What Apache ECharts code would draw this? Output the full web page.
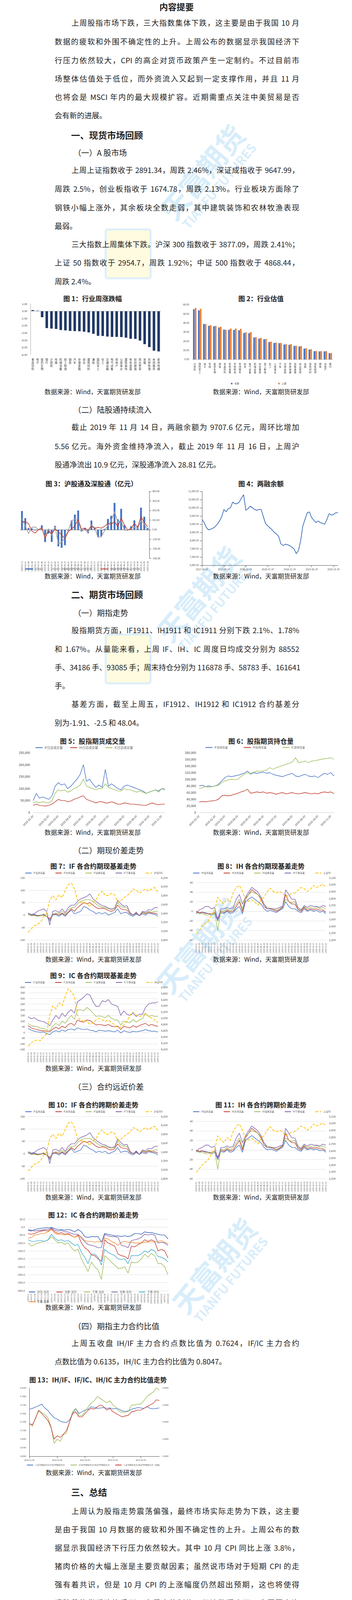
<!DOCTYPE html>
<html><head><meta charset="utf-8">
<script src="https://cdn.jsdelivr.net/npm/echarts@6/dist/echarts.min.js"></script>
<style>
body{margin:0;width:901px;height:5499px;position:relative;background:#fff;font-family:"Noto Sans CJK SC",sans-serif;color:#222;overflow:hidden}
.ln{position:absolute;left:140px;width:626px;font-size:19px;line-height:24px;height:24px;white-space:nowrap;text-align:justify;text-align-last:justify;transform:translateY(-12px)}
.ln.last{text-align-last:left}
.ind{padding-left:43px;width:583px}
.h1{position:absolute;left:182px;font-size:23px;font-weight:bold;transform:translateY(-14px)}
.h2{position:absolute;left:188px;font-size:20px;transform:translateY(-12px)}
.ft{position:absolute;font-size:17px;font-weight:bold;transform:translate(-50%,-11px);white-space:nowrap}
.src{position:absolute;font-size:16px;transform:translate(-50%,-10px);white-space:nowrap}
.ds{position:absolute;left:140px;width:626px;font-size:17px;line-height:22px;white-space:nowrap;text-align:justify;text-align-last:justify;transform:translateY(-11px);color:#333}
.ds.last{text-align-last:left}
.ch{position:absolute}
.wm{position:absolute;color:#9fd4f3;opacity:.4;font-weight:bold;transform:translate(-50%,-50%) rotate(-50deg);white-space:nowrap;pointer-events:none;text-align:center;line-height:1.1}
.wm2{position:absolute;background:#fdf6a8;opacity:.35;border:5px solid #9fd4f3;border-radius:8px;width:110px;height:120px}
</style></head><body>
<div id="root"></div>
<script>
// ---------------- DATA ----------------
const fig1Cats=['食品饮料','电子','医药生物','银行','计算机','传媒','机械设备','轻工制造','钢铁','汽车','非银金融','综合','建筑材料','通信','国防军工','化工','交通运输','电气设备','房地产','公用事业','建筑装饰','有色金属','纺织服装','商业贸易','采掘','农林牧渔','休闲服务','家用电器'];
const fig1Vals=[0.15,0.07,-0.83,-2.33,-2.4,-2.45,-2.6,-2.65,-2.72,-2.75,-2.77,-2.83,-2.93,-3.12,-3.4,-3.42,-3.5,-3.55,-3.55,-3.57,-3.65,-3.8,-3.82,-4.05,-4.55,-4.95,-5.45,-5.55];
const fig2Cats=['计算机','国防军工','电子','传媒','医药生物','通信','食品饮料','有色金属','农林牧渔','休闲服务','综合','电气设备','机械设备','纺织服装','轻工制造','化工','公用事业','汽车','交通运输','家用电器','非银金融','商业贸易','采掘','建筑材料','建筑装饰','钢铁','房地产','银行'];
const fig2Now=[55,53.8,38.8,36.8,36.3,35,32.7,32.5,32.3,31.9,29,28.8,24,22.8,22.1,19,18,17.8,16.3,16,14.8,14.2,11.8,10.8,9,8.8,8.8,6.8];
const fig2Prev=[56.5,55.5,38.8,37.5,36.8,35.8,32.5,33.8,33.8,33.5,29.8,30,24.3,23.6,22.5,19.5,18.5,18,16.8,16.7,15,14.7,12.3,11.2,9.2,9,9.1,7];
const fig3Dates=['2019-02-23','2019-03-02','2019-03-09','2019-03-16','2019-03-23','2019-03-30','2019-04-06','2019-04-13','2019-04-20','2019-04-27','2019-05-04','2019-05-11','2019-05-18','2019-05-25','2019-06-01','2019-06-08','2019-06-15','2019-06-22','2019-06-29','2019-07-06','2019-07-13','2019-07-20','2019-07-27','2019-08-03','2019-08-10','2019-08-17','2019-08-24','2019-08-31','2019-09-07','2019-09-14','2019-09-21','2019-09-28','2019-10-05','2019-10-12','2019-10-19','2019-10-26','2019-11-02','2019-11-09','2019-11-16'];
const fig3Total=[195,120,17,12,-8,0,45,-130,-40,-128,40,-175,-190,-163,-10,97,157,200,-20,20,-38,95,25,-75,-70,8,112,145,280,108,218,45,-3,35,97,38,230,135,17];
const fig3SH=[115,40,-40,25,28,0,15,-75,10,-60,35,-150,-130,-90,-10,90,110,95,-15,0,-30,50,20,-80,-75,-10,45,90,190,75,95,-5,-5,10,25,10,95,60,-10];
const fig3SZ=[80,85,62,-15,-35,0,20,-90,-15,-45,5,-20,-55,-95,-20,5,40,105,5,15,-5,40,10,25,15,35,65,55,85,30,120,50,-5,15,65,25,135,75,30];
const fig4Vals=[9300,9100,8800,8650,8700,8750,8850,9000,9200,9450,9900,9750,9950,10000,10350,10250,10250,10350,10600,10800,9850,9950,10100,10000,9900,9850,9900,9900,9450,9050,8900,8780,8650,8500,8400,8250,7800,7700,7780,7750,7700,7600,7500,7200,7400,8000,8900,9300,9700,9750,9400,9250,9100,9200,9100,9050,9000,9300,9650,9550,9600,9700,9700];
const dailyDates=['2019-01-02','2019-01-09','2019-01-16','2019-01-23','2019-01-30','2019-02-13','2019-02-20','2019-02-27','2019-03-06','2019-03-13','2019-03-20','2019-03-27','2019-04-03','2019-04-10','2019-04-17','2019-04-24','2019-05-07','2019-05-14','2019-05-21','2019-05-28','2019-06-04','2019-06-12','2019-06-19','2019-06-26','2019-07-03','2019-07-10','2019-07-17','2019-07-24','2019-07-31','2019-08-07','2019-08-14','2019-08-21','2019-08-28','2019-09-04','2019-09-11','2019-09-19','2019-09-26','2019-10-10','2019-10-17','2019-10-24','2019-10-31','2019-11-07','2019-11-14'];
const volIF=[50000,80000,60000,65000,60000,55000,70000,110000,125000,115000,120000,100000,110000,125000,140000,160000,200000,130000,140000,120000,105000,115000,105000,180000,110000,120000,110000,100000,95000,110000,115000,110000,105000,100000,95000,90000,80000,85000,90000,95000,90000,100000,95000];
const volIH=[30000,35000,30000,28000,27000,30000,35000,45000,55000,50000,50000,45000,48000,55000,60000,65000,70000,55000,50000,45000,40000,45000,45000,40000,40000,45000,40000,35000,35000,40000,38000,35000,35000,33000,32000,30000,30000,35000,40000,35000,33000,35000,35000];
const volIC=[40000,45000,40000,45000,42000,40000,50000,80000,95000,90000,95000,85000,90000,100000,105000,115000,140000,110000,105000,100000,95000,100000,100000,120000,105000,100000,95000,90000,90000,100000,95000,95000,90000,85000,90000,85000,80000,85000,90000,95000,85000,100000,100000];
const oiIF=[80000,82000,78000,80000,78000,80000,85000,95000,105000,110000,108000,110000,112000,115000,118000,125000,115000,120000,118000,120000,122000,118000,120000,115000,112000,110000,108000,112000,115000,118000,110000,108000,112000,115000,110000,108000,110000,105000,112000,118000,115000,120000,110000];
const oiIH=[32000,33000,32000,34000,35000,36000,40000,50000,52000,50000,52000,55000,58000,62000,65000,70000,58000,60000,62000,60000,62000,58000,60000,58000,55000,58000,60000,56000,58000,60000,57000,56000,58000,60000,58000,56000,58000,56000,60000,62000,60000,62000,57000];
const oiIC=[72000,75000,78000,76000,78000,80000,82000,90000,95000,98000,100000,99000,100000,108000,115000,120000,118000,122000,125000,124000,126000,128000,135000,130000,135000,138000,142000,145000,148000,152000,165000,150000,152000,155000,150000,155000,156000,158000,160000,162000,163000,165000,160000];
const ifM1=[5,0,3,-2,0,2,-5,-20,0,2,-5,5,-5,10,20,5,10,15,35,30,20,15,5,10,5,10,0,5,10,25,5,10,10,0,-5,5,-2,5,0,8,5,3,-5];
const ifM2=[3,-2,0,-3,-2,0,-5,-15,2,5,0,8,0,12,25,15,30,40,50,45,50,40,30,25,28,25,18,15,20,40,25,22,20,5,0,8,-3,10,5,12,8,8,3];
const ifQ1=[5,-3,-2,-5,-3,5,-5,-25,5,8,5,15,5,20,30,30,45,55,60,62,62,55,45,35,32,30,25,22,25,50,35,30,30,8,0,10,-2,12,8,15,12,15,15];
const ifQ2=[8,3,5,15,20,25,15,-40,15,18,10,25,10,30,40,40,55,65,70,75,85,65,55,45,38,35,28,25,28,60,45,35,38,10,0,12,-3,15,12,22,20,30,30];
const hs300=[2970,3050,3120,3150,3200,3320,3400,3700,3800,3700,3820,3750,3900,4050,4080,3950,3700,3650,3650,3620,3550,3650,3700,3830,3900,3800,3800,3850,3820,3650,3680,3750,3800,3850,3950,3920,3850,3900,3950,3900,3950,3980,3880];
const ihM1=[0,-5,-2,-3,-5,-8,-5,-20,-3,-5,0,-5,-3,5,10,-5,20,25,30,25,20,15,5,0,2,0,-3,2,5,20,10,5,5,0,-3,5,0,3,0,2,-2,0,-5];
const ihM2=[0,-3,-2,-5,-5,-5,-2,-15,0,-3,2,-2,0,10,20,0,25,35,45,40,35,25,10,5,5,3,0,3,8,35,20,15,15,3,0,8,2,5,3,5,2,3,-2];
const ihQ1=[-2,-5,-5,-8,-8,-5,-3,-40,2,0,5,0,5,15,25,5,28,35,40,38,35,28,15,8,6,5,2,5,10,25,20,18,20,5,2,10,5,8,5,10,5,8,5];
const ihQ2=[-5,3,5,10,10,5,8,-20,5,5,8,5,8,25,35,15,30,40,50,45,40,30,15,5,6,5,5,8,10,45,35,25,25,8,3,12,8,12,10,10,8,12,10];
const sz50=[2290,2340,2400,2440,2480,2560,2620,2820,2760,2720,2800,2750,2880,2960,2990,2900,2780,2760,2780,2750,2700,2780,2820,2900,2950,2900,2880,2900,2880,2820,2850,2870,2880,2920,2960,2940,2900,2930,2990,2960,2980,3010,2960];
const icM1=[35,20,10,5,0,5,-10,-20,5,15,5,20,10,25,30,20,40,30,25,30,20,15,5,20,15,10,15,10,5,20,-5,15,5,0,10,5,10,15,25,15,10,10,5];
const icM2=[60,40,30,25,15,15,10,5,30,45,30,55,40,70,80,60,110,95,90,110,105,85,65,70,65,60,70,55,50,55,25,55,45,40,60,45,60,70,80,60,70,60,55];
const icQ1=[80,60,55,50,35,35,25,15,55,80,60,100,80,120,150,115,200,200,190,220,200,170,140,145,140,130,150,125,110,110,65,100,90,85,115,90,110,120,170,140,150,140,140];
const icQ2=[140,120,130,110,100,95,80,60,110,150,120,170,140,180,200,170,270,290,310,340,330,270,230,230,280,270,290,250,240,230,150,190,160,150,170,140,160,160,220,250,260,260,270];
const zz500=[4100,4200,4280,4300,4280,4400,4500,5100,5400,5300,5500,5400,5700,5950,5850,5700,5100,4900,4950,4900,4800,4850,4950,5000,4950,4900,4950,4850,4800,4700,4700,4800,4900,5100,5200,5100,5050,5100,5150,5050,5000,4950,4850];
const spM2M1=[-20,-25,-15,-10,-8,-5,-5,-2,-10,-15,-15,-20,-15,-20,-30,-15,-30,-60,-65,-60,-60,-60,-95,-40,-45,-50,-55,-55,-60,-55,-60,-55,-40,-40,-45,-30,-35,-35,-40,-45,-50,-50,-75];
const spQ1M1=[-40,-45,-40,-30,-25,-20,-25,-10,-30,-40,-35,-45,-40,-55,-65,-50,-100,-130,-145,-175,-180,-200,-215,-80,-100,-110,-120,-170,-180,-185,-200,-120,-125,-110,-100,-80,-90,-80,-90,-150,-140,-150,-195];
const spQ2M1=[-100,-120,-110,-100,-95,-90,-80,-60,-80,-100,-95,-110,-100,-130,-150,-140,-200,-240,-280,-220,-250,-270,-330,-180,-200,-220,-240,-260,-260,-250,-290,-220,-225,-220,-200,-170,-190,-165,-180,-230,-230,-250,-300];
const spQ1M2=[-15,-20,-25,-20,-20,-15,-15,-5,-20,-25,-20,-30,-30,-40,-45,-45,-70,-90,-110,-115,-120,-130,-130,-45,-55,-60,-60,-65,-115,-120,-130,-85,-80,-75,-65,-45,-50,-45,-50,-100,-95,-100,-115];
const spQ2M2=[-80,-90,-90,-85,-85,-90,-80,-45,-70,-85,-80,-90,-85,-100,-115,-110,-160,-190,-230,-170,-170,-190,-240,-140,-160,-170,-180,-200,-205,-200,-230,-180,-180,-180,-170,-150,-160,-140,-150,-185,-190,-200,-220];
const spQ2Q1=[-70,-65,-50,-45,-40,-40,-30,-15,-40,-45,-45,-50,-45,-55,-65,-55,-60,-85,-90,-90,-95,-90,-95,-70,-75,-90,-100,-115,-95,-90,-95,-95,-100,-100,-100,-95,-95,-90,-95,-90,-85,-95,-105];
const rIHIF=[0.760,0.762,0.765,0.768,0.772,0.763,0.757,0.748,0.740,0.737,0.732,0.730,0.729,0.735,0.750,0.762,0.750,0.754,0.758,0.760,0.766,0.764,0.762,0.763,0.764,0.762,0.763,0.761,0.762,0.760,0.756,0.755,0.756,0.760,0.762,0.764,0.763,0.762,0.766,0.762,0.761,0.762,0.763];
const rGreen=[0.728,0.720,0.740,0.755,0.752,0.748,0.740,0.720,0.680,0.690,0.685,0.700,0.705,0.730,0.755,0.762,0.745,0.745,0.755,0.765,0.775,0.780,0.790,0.785,0.780,0.775,0.780,0.770,0.765,0.755,0.752,0.753,0.755,0.770,0.770,0.772,0.772,0.780,0.790,0.795,0.800,0.810,0.805];
const rRed=[0.545,0.542,0.560,0.585,0.575,0.565,0.555,0.535,0.500,0.510,0.505,0.515,0.525,0.550,0.575,0.580,0.565,0.565,0.575,0.585,0.590,0.588,0.595,0.600,0.595,0.585,0.590,0.580,0.575,0.570,0.565,0.568,0.570,0.580,0.582,0.585,0.585,0.590,0.595,0.600,0.605,0.615,0.613];

// ---------------- TEXT ----------------
const root=document.getElementById('root');
function add(cls,y,txt,x){const d=document.createElement('div');d.className=cls;d.style.top=y+'px';if(x!==undefined)d.style.left=x+'px';d.textContent=txt;root.appendChild(d);return d;}
function para(ys,lines,cls){lines.forEach((t,i)=>{let c=cls||'ln';if(i===0)c+=' ind';if(i===lines.length-1)c+=' last';add(c,ys[i],t);});}
function wmText(cx,cy){const a=document.createElement('div');a.className='wm';a.style.left=cx+'px';a.style.top=cy+'px';a.innerHTML='<div style="font-size:72px">天富期货</div><div style="font-size:32px">TIANFU FUTURES</div>';root.appendChild(a);}
function wmBox(x,y){const c=document.createElement('div');c.className='wm2';c.style.left=x+'px';c.style.top=y+'px';root.appendChild(c);}
[[530,450],[520,1530],[520,2430],[560,3250],[560,4300],[560,5330]].forEach(p=>wmText(p[0],p[1]));
[[268,585],[268,1622],[268,4438],[268,5475]].forEach(p=>wmBox(p[0],p[1]));

const t=add('ft',11,'内容提要',452);t.style.fontSize='22px';
para([58,106,154,201,248,295],['上周股指市场下跌，三大指数集体下跌，这主要是由于我国 10 月','数据的疲软和外围不确定性的上升。上周公布的数据显示我国经济下','行压力依然较大，CPI 的高企对货币政策产生一定制约。不过目前市','场整体估值处于低位，而外资流入又起到一定支撑作用，并且 11 月','也将会是 MSCI 年内的最大规模扩容。近期需重点关注中美贸易是否','会有新的进展。']);
add('h1',342,'一、现货市场回顾');
add('h2',388,'（一）A 股市场');
para([435,483,531,578],['上周上证指数收于 2891.34，周跌 2.46%，深证成指收于 9647.99，','周跌 2.5%，创业板指收于 1674.78，周跌 2.13%。行业板块方面除了','钢铁小幅上涨外，其余板块全数走弱，其中建筑装饰和农林牧渔表现','最弱。']);
para([625,672,720],['三大指数上周集体下跌。沪深 300 指数收于 3877.09，周跌 2.41%；','上证 50 指数收于 2954.7，周跌 1.92%；中证 500 指数收于 4868.44，','周跌 2.4%。']);
add('ft',762,'图 1：行业周涨跌幅',237);add('ft',762,'图 2：行业估值',668);
add('src',1000,'数据来源：Wind，天富期货研发部',237);add('src',1000,'数据来源：Wind，天富期货研发部',668);
add('h2',1046,'（二）陆股通持续流入');
para([1093,1142,1189],['截止 2019 年 11 月 14 日，两融余额为 9707.6 亿元，周环比增加','5.56 亿元。海外资金维持净流入，截止 2019 年 11 月 16 日，上周沪','股通净流出 10.9 亿元，深股通净流入 28.81 亿元。']);
add('ft',1236,'图 3：沪股通及深股通（亿元）',234);add('ft',1236,'图 4：两融余额',668);
add('src',1472,'数据来源：Wind，天富期货研发部',237);add('src',1472,'数据来源：Wind，天富期货研发部',668);
add('h1',1518,'二、期货市场回顾');
add('h2',1566,'（一）期指走势');
para([1613,1661,1708,1755],['股指期货方面，IF1911、IH1911 和 IC1911 分别下跌 2.1%、1.78%','和 1.67%。从量能来看，上周 IF、IH、IC 周度日均成交分别为 88552','手、34186 手、93085 手；周末持仓分别为 116878 手、58783 手、161641','手。']);
para([1802,1850],['基差方面，截至上周五，IF1912、IH1912 和 IC1912 合约基差分','别为-1.91、-2.5 和 48.04。']);
add('ft',1895,'图 5：股指期货成交量',237);add('ft',1895,'图 6：股指期货持仓量',668);
add('src',2128,'数据来源：Wind，天富期货研发部',237);add('src',2128,'数据来源：Wind，天富期货研发部',668);
add('h2',2174,'（二）期现价差走势');
add('ft',2215,'图 7：IF 各合约期现基差走势',239);add('ft',2215,'图 8：IH 各合约期现基差走势',668);
add('src',2453,'数据来源：Wind，天富期货研发部',239);add('src',2453,'数据来源：Wind，天富期货研发部',668);
add('ft',2495,'图 9：IC 各合约期现基差走势',239);
add('src',2732,'数据来源：Wind，天富期货研发部',239);
add('h2',2779,'（三）合约远近价差');
add('ft',2826,'图 10：IF 各合约跨期价差走势',239);add('ft',2826,'图 11：IH 各合约跨期价差走势',668);
add('src',3062,'数据来源：Wind，天富期货研发部',239);add('src',3062,'数据来源：Wind，天富期货研发部',668);
add('ft',3108,'图 12：IC 各合约跨期价差走势',239);
add('src',3344,'数据来源：Wind，天富期货研发部',239);
add('h2',3392,'（四）期指主力合约比值');
para([3438,3485],['上周五收盘 IH/IF 主力合约点数比值为 0.7624，IF/IC 主力合约','点数比值为 0.6135，IH/IC 主力合约比值为 0.8047。']);
const f13=add('ft',3530,'图 13：IH/IF、IF/IC、IH/IC 主力合约比值走势',75);f13.style.transform='translateY(-11px)';
add('src',3767,'数据来源：Wind，天富期货研发部',240);
add('h1',3816,'三、总结');
para([3868,3915,3962,4009,4056,4103,4150,4196,4244,4291,4339,4387,4434,4482,4528,4575],['上周认为股指走势震荡偏强，最终市场实际走势为下跌，这主要','是由于我国 10 月数据的疲软和外围不确定性的上升。上周公布的数','据显示我国经济下行压力依然较大。其中 10 月 CPI 同比上涨 3.8%，','猪肉价格的大幅上涨是主要贡献因素；虽然说市场对于短期 CPI 的走','强有着共识，但是 10 月 CPI 的上涨幅度仍然超出预期，这也将使得','现阶段的货币政策受到一定程度的制约。经济数据方面，全国固定资','产投资 10 月累计同比增长 5.2%，增速比 1-9 月份回落 0.2%；其中房','地产基建稳中有降，制造业低位小幅回升，社会消费品零售总额 10','月当月同比增长 7.2%，增速较上月回落 0.6%，虽然其中部分原因是','受双十一等短期因素影响，但整体来看消费情况仍然未有起色。金融','数据方面，我国 10 月 M2 同比增速与上月持平，M1 同比增长 3.3%，','较上月回落 0.1%；10 月新增社融 6189 亿，大幅下滑。除了经济数据','的疲软对市场走势产生压制外，上周港股的下跌也对 A 股造成了拖','累，恒生指数周跌近 5%，创 8 月 2 日以来最大周跌幅。不过港股的','下跌主要受其自身情况拖累，对 A 股更多的是情绪面的短期影响，预','计后期影响将趋弱。']);
para([4623,4669,4717,4764,4810,4858,4908,4955],['整体来看，我国经济下行压力依然较大，而 CPI 的高企又对货币','政策产生一定制约；不过目前市场整体估值依然处于低位，而外资的','持续流入又起到一定支撑作用，并且 11 月也将会是 MSCI 年内的最大','规模扩容。所以认为短期市场虽然缺少大幅上涨的条件，但也很难出','现连续下跌的情况，走势将以震荡为主。近期还需重点关注中美贸易','是否会有新的进展，如果第一阶段协议能够顺利落地，这将对市场产','生积极影响。目前市场波动加大，在外围不确定性仍然存在的情况下，','建议投资者暂时观望，等待市场走势企稳。']);
const mz=add('h1',5051,'免责声明');mz.style.fontSize='20px';
const dis=[['本报告的信息均来源于公开资料，我公司对这些信息的准确性和完整性不作','任何保证，也不保证所包含的信息和建议不会发生任何变更。文中的观点、结论','和建议仅供参考。天富期货可发出其它与本报告所载资料不一致及有不同结论的','报告。本报告及该等报告反映编写分析员的不同设想、见解及分析方法。报告所','载资料、意见及推测仅反映分析员于发出此报告日期当日的独立判断。'],['客户不应视本报告为作出投资决策的惟一因素。本报告中所指的投资及服务','可能不适合个别客户，不构成客户私人咨询建议。本公司未确保本报告充分考虑','到个别客户特殊的投资目标、财务状况或需要。本公司建议客户应考虑本报告的','任何意见或建议是否符合其特定状况，以及（若有必要）咨询独立投资顾问。'],['在任何情况下，本报告中的信息或所表述的意见并不构成对任何人的投资建','议。在任何情况下，本公司不对任何人因使用本报告中的任何内容所引致的损失','负任何责任。'],['本报告的观点可能与资管团队的观点不同或对立，对于基于本报告全面或部','分做出的交易、结果，不论盈利或亏损，天富期货研究发展部不承担责任。'],['本报告版权仅为天富期货有限公司所有，未经书面许可，任何机构和个人不','得以任何形式翻版、复制和发布。如引用、刊发，需注明出处天富期货研究发展','部，且不得对本报告进行有悖原意的引用、删节和修改。']];
let k=0;dis.forEach(p=>p.forEach((s,i)=>{let c='ds';if(i===p.length-1)c+=' last';const d=add(c,Math.round(5086+k*23.56),s);if(i===0){d.style.paddingLeft='37px';d.style.width='589px';}k++;}));

// ---------------- CHARTS ----------------
function box(x,y,w,h){const d=document.createElement('div');d.className='ch';d.style.left=x+'px';d.style.top=y+'px';d.style.width=w+'px';d.style.height=h+'px';root.appendChild(d);return echarts.init(d);}
const FF='"Noto Sans CJK SC",sans-serif';
const BLUE='#4472C4',RED='#C0392B',GREEN='#9BBB59',PURPLE='#7E5EAA',YEL='#FFC000';
const vert=v=>v.split('').join('\n');
const fix=n=>v=>v.toFixed(n);
const thou=v=>v.toLocaleString('en-US');
function ln(name,data,color,extra){return Object.assign({name,type:'line',data,symbol:'none',lineStyle:{color,width:1.4},itemStyle:{color}},extra||{});}

// Fig1
box(40,770,380,218).setOption({animation:false,textStyle:{fontFamily:FF},grid:{left:38,right:8,top:8,bottom:80},
 xAxis:{type:'category',data:fig1Cats,axisLine:{show:false},axisTick:{show:false},axisLabel:{interval:0,formatter:vert,fontSize:7,lineHeight:8,color:'#333'}},
 yAxis:{type:'value',min:-6,max:1,interval:1,axisLine:{show:true,lineStyle:{color:'#aaa'}},splitLine:{show:false},axisLabel:{formatter:fix(2),fontSize:7,color:'#333'}},
 series:[{type:'bar',data:fig1Vals,barWidth:'55%',itemStyle:{color:'#1F3864'},markLine:{symbol:'none',silent:true,label:{show:false},lineStyle:{color:'#aaa',type:'solid',width:1},data:[{yAxis:0}]}}]});
// Fig2
box(462,772,400,220).setOption({animation:false,textStyle:{fontFamily:FF},grid:{left:30,right:10,top:8,bottom:72},
 legend:{bottom:2,left:'center',itemGap:100,itemWidth:4,itemHeight:4,textStyle:{fontSize:6},data:['本期','上期']},
 xAxis:{type:'category',data:fig2Cats,axisLine:{lineStyle:{color:'#bbb'}},axisTick:{show:false},axisLabel:{interval:0,formatter:vert,fontSize:6,lineHeight:7,color:'#333'}},
 yAxis:{type:'value',min:0,max:60,interval:10,splitLine:{show:false},axisLine:{show:false},axisLabel:{formatter:fix(2),fontSize:6,color:'#333'}},
 series:[{name:'本期',type:'bar',data:fig2Now,barGap:'10%',barWidth:'32%',itemStyle:{color:BLUE}},{name:'上期',type:'bar',data:fig2Prev,barWidth:'32%',itemStyle:{color:'#ED7D31'}}]});
// Fig3
box(40,1248,400,218).setOption({animation:false,textStyle:{fontFamily:FF},grid:{left:12,right:58,top:10,bottom:30},
 legend:{bottom:2,left:20,itemGap:22,itemWidth:20,itemHeight:3,textStyle:{fontSize:5},data:['合计流入','沪股通:当日资金净流入(人民币):周','深股通:当日资金净流入(人民币):周']},
 xAxis:{type:'category',data:fig3Dates,axisLine:{onZero:true,lineStyle:{color:'#555'}},axisTick:{show:false},axisLabel:{interval:0,rotate:90,fontSize:5,color:'#444'}},
 yAxis:{type:'value',position:'right',min:-300,max:400,interval:100,splitLine:{show:false},axisLine:{show:true,lineStyle:{color:'#555'}},axisTick:{show:true},axisLabel:{formatter:fix(2),fontSize:6,color:'#444'}},
 series:[{name:'合计流入',type:'bar',data:fig3Total,barWidth:'55%',itemStyle:{color:BLUE}},ln('沪股通:当日资金净流入(人民币):周',fig3SH,'#A5A5A5',{lineStyle:{color:'#A5A5A5',width:2}}),ln('深股通:当日资金净流入(人民币):周',fig3SZ,RED,{lineStyle:{color:RED,width:1.6}})]});
// Fig4
const fig4Dates=[];{let y=2017,m=4;for(let i=0;i<fig4Vals.length;i++){if(i%2===0){fig4Dates.push(y+'-'+String(m).padStart(2,'0')+'-19');m++;if(m>12){m=1;y++;}}else fig4Dates.push(y+'-'+String(m).padStart(2,'0')+'-04');}}
box(460,1250,420,215).setOption({animation:false,textStyle:{fontFamily:FF},grid:{left:57,right:15,top:8,bottom:18},
 xAxis:{type:'category',data:fig4Dates,boundaryGap:false,axisLine:{lineStyle:{color:'#555'}},axisTick:{show:true,interval:9},axisLabel:{interval:9,fontSize:6,color:'#444'}},
 yAxis:{type:'value',min:6500,max:11000,interval:500,splitLine:{show:false},axisLine:{show:true,lineStyle:{color:'#555'}},axisTick:{show:true},axisLabel:{formatter:v=>thou(v)+'.00',fontSize:6,color:'#444'}},
 series:[ln('两融余额',fig4Vals,'#3D6FB8',{lineStyle:{color:'#3D6FB8',width:1.8}})]});
// Fig5/6
const monthFirst=i=>i===0||dailyDates[i].slice(5,7)!==dailyDates[i-1].slice(5,7);
const mAxis={type:'category',data:dailyDates,boundaryGap:false,axisLine:{lineStyle:{color:'#ccc'}},axisTick:{show:false},axisLabel:{interval:(i)=>monthFirst(i),formatter:v=>v.slice(0,8)+'07',rotate:45,fontSize:7,color:'#333'}};
box(40,1905,390,215).setOption({animation:false,textStyle:{fontFamily:FF},grid:{left:45,right:8,top:22,bottom:40},
 legend:{top:0,left:45,itemGap:18,itemWidth:18,itemHeight:2,textStyle:{fontSize:8,color:'#555'}},xAxis:mAxis,
 yAxis:{type:'value',min:0,max:250000,interval:50000,splitLine:{show:false},axisLine:{show:false},axisLabel:{formatter:thou,fontSize:8,color:'#333'}},
 series:[ln('IF日总成交量',volIF,BLUE),ln('IH日总成交量',volIH,RED),ln('IC日总成交量',volIC,GREEN)]});
box(465,1905,400,215).setOption({animation:false,textStyle:{fontFamily:FF},grid:{left:45,right:10,top:22,bottom:40},
 legend:{top:0,left:55,itemGap:40,itemWidth:18,itemHeight:2,textStyle:{fontSize:7,color:'#555'}},xAxis:mAxis,
 yAxis:{type:'value',min:0,max:180000,interval:20000,splitLine:{show:false},axisLine:{show:false},axisLabel:{formatter:thou,fontSize:8,color:'#333'}},
 series:[ln('IF总持仓量',oiIF,BLUE),ln('IH总持仓量',oiIH,RED),ln('IC总持仓量',oiIC,GREEN)]});
// basis charts
const dAxis=(fmt)=>({type:'category',data:dailyDates,boundaryGap:false,axisLine:{onZero:true,onZeroAxisIndex:0,lineStyle:{color:'#ddd'}},axisTick:{show:false},axisLabel:{interval:0,rotate:90,fontSize:5,color:'#555',formatter:fmt}});
function basis(x,y,w,h,L,R,names,s){
 box(x,y,w,h).setOption({animation:false,textStyle:{fontFamily:FF},grid:{left:32,right:36,top:22,bottom:8},
  legend:{top:2,left:'center',itemGap:26,itemWidth:16,itemHeight:2,textStyle:{fontSize:6,color:'#555'}},
  xAxis:dAxis(),
  yAxis:[Object.assign({type:'value',splitLine:{lineStyle:{color:'#e3e3e3'},showMaxLine:L.showMax!==false},axisLine:{show:false},axisTick:{show:false},axisLabel:{fontSize:7,color:'#444',formatter:v=>(L.hide&&v===L.max)?'':String(v)}},L),
         Object.assign({type:'value',splitLine:{show:false},axisLine:{show:false},axisTick:{show:false},axisLabel:{fontSize:7,color:'#444',formatter:thou}},R)],
  series:[ln(names[0],s[0],BLUE),ln(names[1],s[1],RED),ln(names[2],s[2],GREEN),ln(names[3],s[3],PURPLE),
   ln(names[4],s[4],YEL,{yAxisIndex:1,lineStyle:{color:YEL,width:1.8,type:'dashed'}})]});
}
const ifNames=['IF当月基差','IF次月基差','IF当季基差','IF下季基差','沪深300'];
const ihNames=['IH当月基差','IH次月基差','IH当季基差','IH下季基差','上证50'];
basis(40,2225,400,218,{min:-100,max:150,interval:50},{min:2800,max:4200,interval:200},ifNames,[ifM1,ifM2,ifQ1,ifQ2,hs300]);
basis(470,2225,400,218,{min:-60,max:70,interval:20,hide:true,showMax:false},{min:2200,max:3100,interval:100},ihNames,[ihM1,ihM2,ihQ1,ihQ2,sz50]);
basis(40,2505,400,218,{min:-150,max:400,interval:50},{min:4000,max:6000,interval:200},['IC当月基差','IC次月基差','IC当季基差','IC下季基差','中证500'],[icM1,icM2,icQ1,icQ2,zz500]);
basis(40,2836,400,218,{min:-100,max:150,interval:50},{min:2800,max:4200,interval:200},ifNames,[ifM1,ifM2,ifQ1,ifQ2,hs300]);
basis(470,2836,400,218,{min:-60,max:70,interval:20,hide:true,showMax:false},{min:2200,max:3100,interval:100},ihNames,[ihM1,ihM2,ihQ1,ihQ2,sz50]);
// Fig12
const slash=v=>{const p=v.split('-');return p[0]+'/'+(+p[1])+'/'+(+p[2]);};
box(40,3113,400,228).setOption({animation:false,textStyle:{fontFamily:FF},grid:{left:32,right:10,top:8,bottom:22},
 legend:{bottom:0,left:'center',itemGap:18,itemWidth:16,itemHeight:2,textStyle:{fontSize:7,color:'#555'}},
 xAxis:dAxis(slash),
 yAxis:{type:'value',min:-400,max:50,interval:50,splitLine:{lineStyle:{color:'#e3e3e3'}},axisLine:{show:false},axisLabel:{formatter:fix(1),fontSize:7,color:'#444'}},
 series:[ln('次月-当月',spM2M1,'#2E5EB8'),ln('当季-当月',spQ1M1,RED),ln('下季-当月',spQ2M1,GREEN),ln('当季-次月',spQ1M2,PURPLE),ln('下季-次月',spQ2M2,'#3BA7CF'),ln('下季-当季',spQ2Q1,'#F58A2A')]});
// Fig13
box(40,3543,400,215).setOption({animation:false,textStyle:{fontFamily:FF},grid:{left:35,right:32,top:10,bottom:30},
 legend:{bottom:0,left:'center',itemGap:14,itemWidth:16,itemHeight:2,textStyle:{fontSize:5,color:'#555'}},
 xAxis:{type:'category',data:dailyDates,boundaryGap:false,axisLine:{lineStyle:{color:'#555'}},axisTick:{show:true,interval:8},axisLabel:{interval:8,fontSize:5,color:'#444',formatter:v=>v.slice(0,8)+'09'}},
 yAxis:[{type:'value',min:0.65,max:0.81,interval:0.02,splitLine:{show:false},axisLine:{show:true,lineStyle:{color:'#555'}},axisLabel:{formatter:fix(4),fontSize:5,color:'#444'}},
  {type:'value',min:0.45,max:0.65,interval:0.05,splitLine:{show:false},axisLine:{show:false},axisLabel:{formatter:fix(4),fontSize:5,color:'#444'}}],
 series:[ln('上证50期指主力/沪深300期指主力',rIHIF,BLUE),ln('沪深300期指主力/中证500期指主力',rGreen,GREEN),ln('上证50期指主力/中证500期指主力（右轴）',rRed,RED,{yAxisIndex:1})]});
</script></body></html>
